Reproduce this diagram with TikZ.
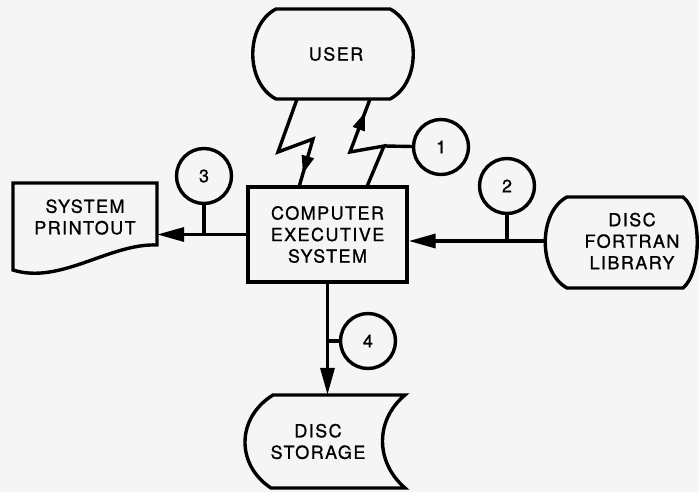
\documentclass[tikz,border=0pt]{standalone}
\usepackage{fontspec}
\setmainfont[LetterSpace=8,FakeBold=1]{TeX Gyre Heros}
\usetikzlibrary{arrows.meta,decorations.markings,calc}
\newcommand{\flowfont}{\fontsize{18pt}{21.5pt}\selectfont}

\begin{document}
\begin{tikzpicture}[x=1pt, y=-1pt,
  flow/.style={line width=3.4pt, line join=miter},
  tip/.style={-{Triangle[length=27pt,width=14pt]}},
  zig/.style={flow, postaction={decorate},
    decoration={markings, mark=at position #1 with {\arrow{Triangle[length=18pt,width=12pt]}}}},
  area/.style={inner sep=0pt, align=center, font=\flowfont},
  box/.style={area, draw, line width=3.4pt, minimum width=159pt, minimum height=95pt},
  num/.style={circle, draw, line width=3.4pt, minimum size=55pt, inner sep=0pt, font=\flowfont}]
  \fill[black!4] (0,0) rectangle (699,492);
  \useasboundingbox (0,0) rectangle (699,492);

  % outlines of the terminals, document and storage
  \draw[flow] (276,9) -- (390,9) .. controls (421,25) and (421,83) .. (390,99) -- (276,99) .. controls (245,83) and (245,25) .. (276,9) -- cycle;
  \draw[flow] (567,197) -- (683,197) .. controls (702,212) and (702,272) .. (683,288) -- (567,288) .. controls (538,272) and (538,212) .. (567,197) -- cycle;
  \draw[flow] (13,183) -- (157,183) -- (157,245) .. controls (110,243) and (60,285) .. (13,270) -- cycle;
  \draw[flow] (273,395) -- (405,395) .. controls (375,420) and (375,462) .. (405,488) -- (271,488) .. controls (236,465) and (236,418) .. (273,395) -- cycle;

  \node[area, minimum width=160pt, minimum height=90pt] (U) at (336,54) {USER};
  \node[box] (CES) at (327.5,234.5) {COMPUTER\\EXECUTIVE\\SYSTEM};
  \node[area, minimum width=144pt, minimum height=64pt] (SP) at (85,217) {SYSTEM\\PRINTOUT};
  \node[area, minimum width=174pt] (DFL) at (632,241) {DISC\\FORTRAN\\LIBRARY};
  \node[area, minimum height=93pt] (DS) at (318,441.5) {DISC\\STORAGE};

  \node[num] (N1) at (441,147) {1};
  \node[num] (N2) at (507,186) {2};
  \node[num] (N3) at (204,176) {3};
  \node[num] (N4) at (368,341) {4};

  \draw[flow, tip] (CES.west) -- (CES.west -| SP.east);
  \draw[flow, tip] (DFL.west) -- (DFL.west -| CES.east);
  \draw[flow, tip] (CES.south) -- (CES.south |- DS.north);
  \draw[flow] (N3.south) -- (N3.south |- CES.west);
  \draw[flow] (N2.south) -- (N2.south |- DFL.west);
  \draw[flow] (N4.west) -- (N4.west -| CES.south);

  % zigzag links to the user
  \coordinate (K1) at (384,146);
  \draw[zig=-12pt] ($(U.south)+(-39,0)$) -- (278,152) -- (313,139) -- ($(CES.north)+(-28,0)$);
  \draw[zig=-14pt] ($(CES.north)+(40,0)$) -- (K1) -- (350,152) -- ($(U.south)+(34,0)$);
  \draw[flow] (K1) -- (N1);
\end{tikzpicture}
\end{document}
